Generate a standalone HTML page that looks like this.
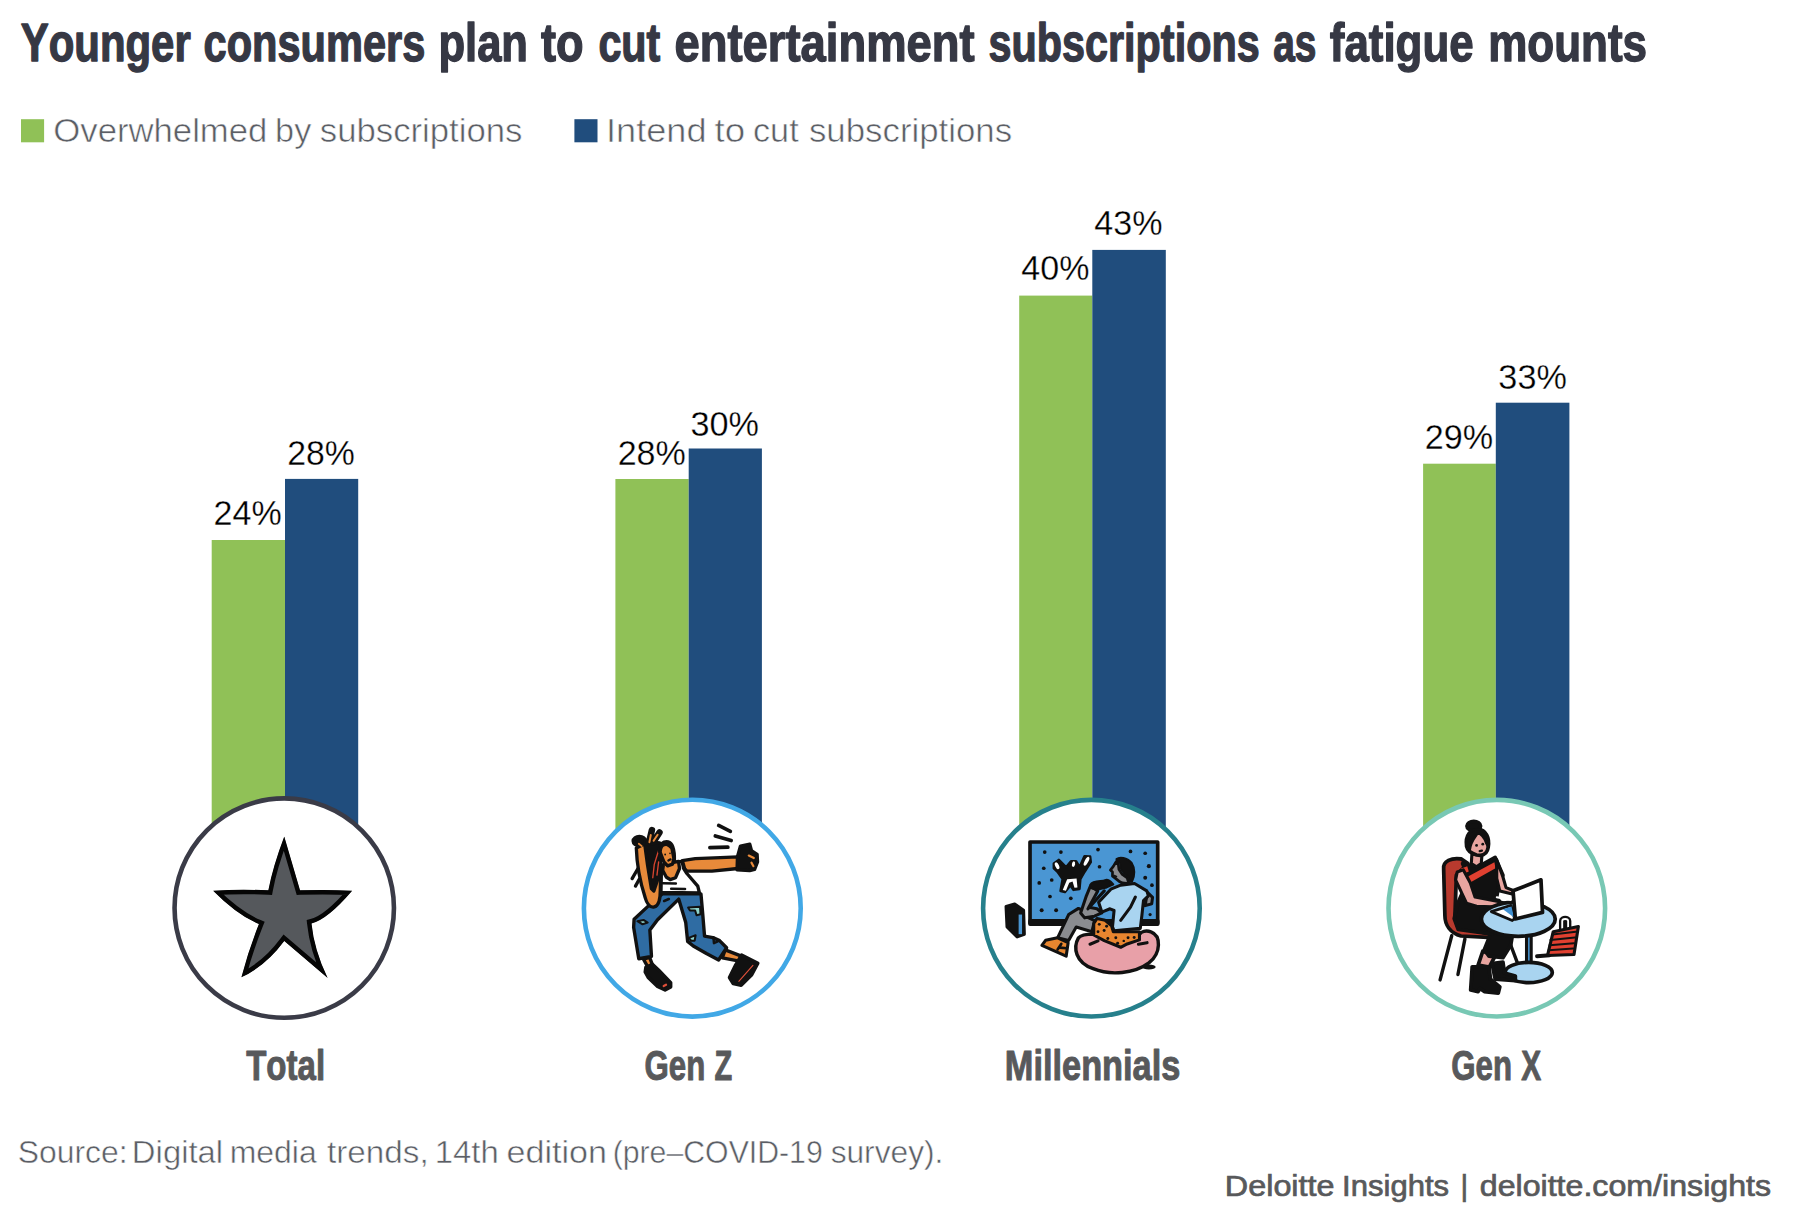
<!DOCTYPE html>
<html lang="en">
<head>
<meta charset="utf-8">
<title>Younger consumers plan to cut entertainment subscriptions as fatigue mounts</title>
<style>
html,body{margin:0;padding:0;background:#fff;}
body{width:1794px;height:1224px;overflow:hidden;}
svg{display:block;font-family:"Liberation Sans",sans-serif;font-kerning:none;}
</style>
</head>
<body>
<svg width="1794" height="1224" viewBox="0 0 1794 1224">
<rect width="1794" height="1224" fill="#fff"/>
<rect x="211.7" y="540.0" width="73.3" height="370.0" fill="#90c157"/>
<rect x="285.0" y="478.9" width="73.2" height="431.1" fill="#204d7d"/>
<rect x="615.4" y="479.0" width="73.3" height="431.0" fill="#90c157"/>
<rect x="688.7" y="448.5" width="73.2" height="461.5" fill="#204d7d"/>
<rect x="1019.2" y="295.6" width="73.1" height="614.4" fill="#90c157"/>
<rect x="1092.3" y="249.9" width="73.5" height="660.1" fill="#204d7d"/>
<rect x="1423.1" y="463.7" width="72.7" height="446.3" fill="#90c157"/>
<rect x="1495.8" y="402.7" width="73.6" height="507.3" fill="#204d7d"/>
<text y="60.50" font-size="54" font-weight="700" fill="#363844" stroke="#363844" stroke-width="1.4" stroke-linejoin="round"><tspan x="20.78" textLength="169.95" lengthAdjust="spacingAndGlyphs">Younger</tspan> <tspan x="203.58" textLength="221.73" lengthAdjust="spacingAndGlyphs">consumers</tspan> <tspan x="438.43" textLength="89.57" lengthAdjust="spacingAndGlyphs">plan</tspan> <tspan x="541.05" textLength="42.61" lengthAdjust="spacingAndGlyphs">to</tspan> <tspan x="598.39" textLength="61.92" lengthAdjust="spacingAndGlyphs">cut</tspan> <tspan x="674.43" textLength="300.33" lengthAdjust="spacingAndGlyphs">entertainment</tspan> <tspan x="988.45" textLength="271.25" lengthAdjust="spacingAndGlyphs">subscriptions</tspan> <tspan x="1273.26" textLength="43.23" lengthAdjust="spacingAndGlyphs">as</tspan> <tspan x="1329.85" textLength="143.75" lengthAdjust="spacingAndGlyphs">fatigue</tspan> <tspan x="1488.20" textLength="158.80" lengthAdjust="spacingAndGlyphs">mounts</tspan></text>
<rect x="21" y="119.2" width="23.1" height="23.1" fill="#90c157"/>
<rect x="574.4" y="119.2" width="23.1" height="23.1" fill="#204d7d"/>
<text y="141.80" font-size="33" fill="#5b5e65" stroke="#fff" stroke-width="0.55"><tspan x="53.31" textLength="214.08" lengthAdjust="spacingAndGlyphs">Overwhelmed</tspan> <tspan x="275.14" textLength="36.17" lengthAdjust="spacingAndGlyphs">by</tspan> <tspan x="319.78" textLength="202.72" lengthAdjust="spacingAndGlyphs">subscriptions</tspan></text>
<text y="141.80" font-size="33" fill="#5b5e65" stroke="#fff" stroke-width="0.55"><tspan x="606.02" textLength="100.46" lengthAdjust="spacingAndGlyphs">Intend</tspan> <tspan x="714.49" textLength="30.60" lengthAdjust="spacingAndGlyphs">to</tspan> <tspan x="752.99" textLength="45.71" lengthAdjust="spacingAndGlyphs">cut</tspan> <tspan x="808.98" textLength="203.13" lengthAdjust="spacingAndGlyphs">subscriptions</tspan></text>
<text y="525.40" font-size="34.8" fill="#000" stroke="#fff" stroke-width="0.3"><tspan x="213.54" textLength="68.13" lengthAdjust="spacingAndGlyphs">24%</tspan></text>
<text y="464.80" font-size="34.8" fill="#000" stroke="#fff" stroke-width="0.3"><tspan x="287.15" textLength="67.71" lengthAdjust="spacingAndGlyphs">28%</tspan></text>
<text y="464.90" font-size="34.8" fill="#000" stroke="#fff" stroke-width="0.3"><tspan x="617.64" textLength="68.13" lengthAdjust="spacingAndGlyphs">28%</tspan></text>
<text y="436.30" font-size="34.8" fill="#000" stroke="#fff" stroke-width="0.3"><tspan x="690.55" textLength="68.52" lengthAdjust="spacingAndGlyphs">30%</tspan></text>
<text y="280.10" font-size="34.8" fill="#000" stroke="#fff" stroke-width="0.3"><tspan x="1021.37" textLength="68.09" lengthAdjust="spacingAndGlyphs">40%</tspan></text>
<text y="234.60" font-size="34.8" fill="#000" stroke="#fff" stroke-width="0.3"><tspan x="1094.37" textLength="68.30" lengthAdjust="spacingAndGlyphs">43%</tspan></text>
<text y="448.90" font-size="34.8" fill="#000" stroke="#fff" stroke-width="0.3"><tspan x="1424.63" textLength="68.44" lengthAdjust="spacingAndGlyphs">29%</tspan></text>
<text y="388.60" font-size="34.8" fill="#000" stroke="#fff" stroke-width="0.3"><tspan x="1498.35" textLength="68.52" lengthAdjust="spacingAndGlyphs">33%</tspan></text>
<circle cx="284.25" cy="908.1" r="109.7" fill="#fff" stroke="#3a3b47" stroke-width="4.6"/>
<circle cx="692.3" cy="908.2" r="108.4" fill="#fff" stroke="#41a8e6" stroke-width="4.6"/>
<circle cx="1091.4" cy="908.2" r="108.3" fill="#fff" stroke="#26808c" stroke-width="4.6"/>
<circle cx="1496.8" cy="908.2" r="108.3" fill="#fff" stroke="#78c8b4" stroke-width="4.6"/>
<g id="icon-star" transform="translate(205,825) scale(0.13479)">
<clipPath id="starclip"><path d="M588,85 L705,485 Q900,478 1092,487 Q910,700 790,730 Q810,928 910,1135 L588,860 Q451,1045 270,1130 Q322,930 400,735 Q240,669 60,487 Q270,475 470,485 Q501,315 588,85 Z"/></clipPath>
<path d="M588,85 L705,485 Q900,478 1092,487 Q910,700 790,730 Q810,928 910,1135 L588,860 Q451,1045 270,1130 Q322,930 400,735 Q240,669 60,487 Q270,475 470,485 Q501,315 588,85 Z" fill="#55585c" stroke="#050505" stroke-width="66" stroke-linejoin="miter" stroke-miterlimit="10" clip-path="url(#starclip)"/>
</g>

<g id="icon-genz" stroke-linejoin="round" stroke-linecap="round">
<!-- lower body : traced in window (620,885) scale 10.647 -->
<g transform="translate(620,885) scale(0.093923)" stroke="#111" stroke-width="36">
  <path d="M250,790 L315,770 L350,860 L300,880 Z" fill="#e88a3a"/>
  <path d="M1120,690 L1300,760 L1270,810 L1090,775 Z" fill="#e88a3a"/>
  <path d="M450,95 L300,225 L150,365 L145,450 L200,785 L335,760 L318,480 L400,370 L625,150 L700,400 L720,600 L780,650 L920,730 L1050,798 L1135,668 L1060,592 L990,560 L900,545 L880,300 L862,95 Z" fill="#2f6ca3"/>
  <path d="M185,385 L250,372 L295,400 L240,418 Z" fill="#8ed5cd" stroke-width="22"/>
  <path d="M725,240 L852,232 L858,312 L815,322 L800,272 L745,272 Z" fill="#8ed5cd" stroke-width="22"/>
  <path d="M738,560 L805,535 L795,592 L755,594 Z" fill="#8ed5cd" stroke-width="22"/>
  <path d="M995,560 L1000,620 L1040,600" fill="none" stroke-width="26"/>
  <path d="M470,170 L520,150" fill="none" stroke-width="28"/>
  <path d="M275,875 L345,845 L410,905 L540,1040 L540,1085 L480,1118 L400,1080 L300,985 L268,925 Z" fill="#111"/>
  <path d="M465,1075 L490,1062" stroke="#e0503a" stroke-width="24" fill="none"/>
  <path d="M1295,745 L1468,832 L1400,960 L1290,1068 L1205,1050 L1165,985 L1232,850 Z" fill="#111"/>
  <path d="M1265,1025 L1415,855" stroke="#e0503a" stroke-width="12" fill="none"/>
</g>
<!-- upper body : traced in window (620,815) scale 11.96 -->
<g transform="translate(620,815) scale(0.083612)" stroke="#111" stroke-width="40">
  <!-- hair strands left -->
  <path d="M215,640 L145,760 M232,765 L185,850" fill="none" stroke-width="40"/>
  <!-- tank top -->
  <path d="M495,640 L490,925 L950,932 L930,850 L800,700 L762,640 L742,555 L700,560 Z" fill="#fff"/>
  <!-- chest / neck -->
  <path d="M520,590 L700,555 L712,640 L665,750 L600,772 L555,745 L510,660 Z" fill="#e88a3a"/>
  <path d="M512,815 L668,820 M612,882 L778,886" fill="none" stroke-width="30"/>
  <!-- extended arm -->
  <path d="M745,545 L900,522 L1200,510 L1410,500 L1410,640 L1100,672 L800,672 L772,640 Z" fill="#e88a3a"/>
  <!-- hand + phone -->
  <path d="M1440,372 L1552,350 L1572,425 L1640,470 L1645,560 L1610,650 L1550,665 L1400,655 L1405,500 Z" fill="#111"/>
  <path d="M1540,485 L1600,515 M1572,570 L1596,612" stroke="#e88a3a" stroke-width="26" fill="none"/>
  <!-- raised arm -->
  <path d="M195,395 C200,550 240,800 300,985 C320,1060 360,1112 410,1100 C470,1085 482,1000 482,900 L487,640 L440,600 L400,820 L330,470 L300,340 Z" fill="#e88a3a"/>
  <!-- dreadlocks over arm -->
  <path d="M300,380 L345,320 L475,335 L490,650 L445,790 L405,910 L375,880 L330,600 Z" fill="#111"/>
  <path d="M478,370 L410,590 L392,750 M462,560 L442,720" stroke="#d8452f" stroke-width="16" fill="none"/>
  <!-- face -->
  <path d="M478,440 L495,362 L560,340 L620,395 L645,520 L628,588 L570,608 L525,560 Z" fill="#e88a3a"/>
  <!-- hair cap -->
  <path d="M462,440 C452,340 520,302 578,312 C645,328 662,450 660,548 L644,542 L624,398 C575,345 520,348 496,392 L482,446 Z" fill="#111" stroke-width="22"/>
  <circle cx="540" cy="472" r="11" fill="#111" stroke="none"/>
  <circle cx="598" cy="458" r="10" fill="#111" stroke="none"/>
  <path d="M578,545 L605,530" stroke-width="26" fill="none"/>
  <!-- fist + peace fingers -->
  <ellipse cx="232" cy="312" rx="75" ry="55" fill="#111"/>
  <path d="M345,335 L382,180 M395,328 L472,210" fill="none" stroke-width="78"/>
  <path d="M352,325 L368,240 M402,308 L450,236" fill="none" stroke="#e88a3a" stroke-width="24"/>
  <path d="M225,345 L260,372" stroke="#e88a3a" stroke-width="22" fill="none"/>
  <!-- motion lines -->
  <path d="M1180,125 L1320,195 M1140,250 L1330,305 M1075,390 L1290,385" fill="none" stroke-width="44"/>
</g>
</g>

<g id="icon-mill" transform="translate(1000,830) scale(0.12253)" stroke="#111" stroke-width="25" stroke-linejoin="round" stroke-linecap="round">
  <!-- TV -->
  <rect x="245" y="98" width="1042" height="660" fill="#4a96d3" stroke-width="30"/>
  <rect x="245" y="742" width="1042" height="26" fill="#111" stroke-width="30"/>
  <g fill="#111" stroke="none">
    <circle cx="365" cy="180" r="15"/><circle cx="497" cy="180" r="15"/><circle cx="800" cy="160" r="15"/>
    <circle cx="1065" cy="175" r="15"/><circle cx="1185" cy="190" r="15"/><circle cx="357" cy="312" r="15"/>
    <circle cx="812" cy="300" r="15"/><circle cx="1215" cy="295" r="17"/><circle cx="320" cy="432" r="15"/>
    <circle cx="422" cy="408" r="15"/><circle cx="1185" cy="390" r="16"/><circle cx="1240" cy="450" r="15"/>
    <circle cx="408" cy="543" r="15"/><circle cx="578" cy="558" r="15"/><circle cx="340" cy="655" r="16"/>
    <circle cx="458" cy="655" r="16"/><circle cx="1225" cy="690" r="13"/>
  </g>
  <!-- creature -->
  <path d="M440,275 L480,245 L540,305 L580,255 L620,255 L650,305 L690,215 L735,218 L740,262 L690,340 L655,400 L648,480 L600,488 L575,450 L530,505 L495,498 L512,400 L470,340 L440,312 Z" fill="#111" stroke-width="22"/>
  <g fill="#fff" stroke="none">
    <ellipse cx="466" cy="292" rx="15" ry="30" transform="rotate(-25 466 292)"/>
    <ellipse cx="600" cy="278" rx="13" ry="24" transform="rotate(10 600 278)"/>
    <ellipse cx="706" cy="255" rx="15" ry="40" transform="rotate(28 706 255)"/>
    <path d="M512,490 L548,402 L625,395 L632,470 L608,472 L592,420 L565,430 L538,495 Z"/>
  </g>
  <!-- console -->
  <path d="M50,625 L120,605 L192,655 L198,850 L140,872 L58,790 Z" fill="#111" stroke-width="26"/>
  <rect x="152" y="690" width="28" height="160" fill="#4a96d3" stroke="none"/>
  <!-- beanbag -->
  <ellipse cx="1215" cy="1118" rx="55" ry="20" fill="#111" stroke="none"/>
  <path d="M640,880 C595,960 615,1080 760,1132 C900,1190 1100,1172 1215,1085 C1320,1000 1312,862 1232,832 C1190,815 1150,830 1140,850 L1000,900 L760,850 C700,850 660,858 640,880 Z" fill="#e8a0a8" stroke-width="28"/>
  <path d="M735,932 L800,905 M1130,932 L1200,920" fill="none" stroke-width="26"/>
  <!-- legs -->
  <path d="M640,640 L560,690 L470,880 L560,902 L622,792 L750,830 L772,740 L690,700 L662,650 Z" fill="#8a8c90"/>
  <!-- shoe -->
  <path d="M372,900 L470,880 L556,920 L540,1030 L342,942 Z" fill="#e8862f"/>
  <path d="M490,960 L545,965 M500,930 L470,975" fill="none" stroke-width="22"/>
  <!-- shorts -->
  <path d="M791,723 L858,737 L911,783 L925,830 L1138,830 L1138,897 L1038,930 L985,957 L851,903 L765,857 L765,763 Z" fill="#e8862f"/>
  <g fill="#111" stroke="none">
    <circle cx="810" cy="770" r="12"/><circle cx="870" cy="785" r="12"/><circle cx="800" cy="830" r="12"/>
    <circle cx="850" cy="820" r="12"/><circle cx="880" cy="885" r="12"/><circle cx="945" cy="880" r="12"/>
    <circle cx="960" cy="925" r="12"/><circle cx="1045" cy="880" r="12"/><circle cx="1095" cy="878" r="12"/><circle cx="1010" cy="905" r="10"/>
  </g>
  <!-- left arm -->
  <path d="M738,457 L798,497 L725,630 L791,643 L831,677 L771,703 L691,717 L658,677 L705,537 Z" fill="#8a8c90"/>
  <!-- right arm -->
  <path d="M1205,510 L1245,550 L1238,603 L1185,617 L1191,577 Z" fill="#8a8c90"/>
  <!-- shirt -->
  <path d="M805,590 L905,483 L985,450 L1098,437 L1198,497 L1211,537 L1171,577 L1158,697 L1145,803 L931,823 L918,790 L931,657 L898,643 L831,670 Z" fill="#a9d4f0"/>
  <path d="M1105,547 L1065,630 L985,737" fill="none"/>
  <path d="M851,497 L718,643" fill="none" stroke-width="26"/>
  <!-- head -->
  <path d="M945,263 L925,297 L901,327 L918,343 L918,377 L945,397 L978,423 L998,432 L1051,437 L1038,390 L998,363 L971,323 L965,277 Z" fill="#8a8c90" stroke-width="22"/>
  <path d="M950,236 C975,216 1036,222 1074,266 C1104,312 1104,375 1078,424 L1060,424 L1050,385 L1012,355 L986,318 L980,272 L950,255 Z" fill="#111" stroke-width="14"/>
  <path d="M932,372 L950,380" fill="none" stroke-width="14"/>
  <!-- controller -->
  <path d="M736,446 C760,404 838,422 858,408 C888,396 914,432 926,444 L871,470 L790,488 L750,478 Z" fill="#111" stroke-width="14"/>
</g>

<g id="icon-genx" transform="translate(1430,810) scale(0.15519)" stroke="#111" stroke-width="24" stroke-linejoin="round" stroke-linecap="round">
  <!-- chair legs -->
  <path d="M140,810 L65,1095 M225,830 L180,1060 M520,870 L565,990" fill="none" stroke-width="22"/>
  <!-- chair -->
  <path d="M88,380 C82,330 140,305 200,315 L245,345 L170,420 L160,700 L182,760 L402,800 L400,822 L200,812 C130,792 96,740 96,680 Z" fill="#b83a2e"/>
  <!-- table stem + base -->
  <rect x="622" y="780" width="30" height="230" fill="#4a96d3" stroke-width="20"/>
  <ellipse cx="636" cy="1047" rx="152" ry="65" fill="#a9d4f0"/>
  <!-- legs -->
  <path d="M340,910 L420,940 L382,1012 L310,1000 Z" fill="#e8a5a0"/>
  <path d="M390,800 L532,800 L520,872 L470,952 L380,942 L350,900 Z" fill="#111"/>
  <path d="M400,990 L470,980 L480,1050 L550,1070 L550,1100 L420,1090 Z" fill="#111"/>
  <path d="M272,1010 L380,1010 L390,1090 L450,1140 L440,1180 L350,1170 L322,1150 L310,1170 L262,1160 Z" fill="#111"/>
  <!-- torso -->
  <path d="M210,345 L270,362 L330,356 L420,306 L470,420 L440,500 L430,560 L460,610 L390,650 L340,720 L400,800 L182,770 L156,700 L180,600 L250,440 Z" fill="#111"/>
  <path d="M198,378 L240,362 L250,396 L212,412 Z M245,428 L415,336 L422,376 L262,466 Z" fill="#e04030" stroke="none"/>
  <!-- arms -->
  <path d="M430,320 L470,432 L490,500 L540,520 L530,542 L450,522 L430,440 Z" fill="#e8a5a0" stroke-width="20"/>
  <path d="M175,400 L215,386 L260,470 L290,560 L440,590 L480,600 L450,626 L300,620 L235,600 L165,450 Z" fill="#e8a5a0" stroke-width="20"/>
  <!-- neck + head -->
  <path d="M270,285 L335,290 L330,345 L300,366 L266,345 Z" fill="#e8a5a0" stroke-width="20"/>
  <path d="M236,235 C225,160 265,122 310,125 C360,128 385,180 375,240 C370,275 350,290 325,292 L300,290 C265,280 242,265 236,235 Z" fill="#e8a5a0"/>
  <ellipse cx="282" cy="103" rx="44" ry="30" fill="#111"/>
  <path d="M236,235 C225,160 265,122 310,125 C360,128 385,180 375,240 L362,215 C350,172 322,152 308,150 C290,178 262,200 256,264 Z" fill="#111" stroke-width="14"/>
  <circle cx="300" cy="228" r="9" fill="#111" stroke="none"/><circle cx="340" cy="220" r="9" fill="#111" stroke="none"/>
  <path d="M320,265 L335,262" fill="none" stroke-width="14"/>
  <!-- table top -->
  <ellipse cx="569" cy="703" rx="238" ry="111" fill="#a9d4f0"/>
  <!-- laptop -->
  <path d="M395,655 L522,615 L545,700 L530,712 Z" fill="#fff" stroke-width="18"/>
  <path d="M470,640 L525,622 L542,692 Z" fill="#3f8fd0" stroke="none"/>
  <path d="M430,562 L520,580" fill="none" stroke="#fff" stroke-width="12"/>
  <path d="M535,520 L715,450 L725,660 L550,702 Z" fill="#fff"/>
  <!-- bag -->
  <path d="M852,775 L852,715 C852,698 890,698 890,715 L890,765" fill="none" stroke-width="42"/>
  <path d="M852,775 L852,715 C852,698 890,698 890,715 L890,765" fill="none" stroke="#fff" stroke-width="12"/>
  <path d="M690,942 L770,936" fill="none" stroke-width="26"/>
  <path d="M794,784 L956,751 L928,931 L757,938 Z" fill="#e04030" stroke-width="20"/>
  <path d="M788,803 L940,785 M776,837 L934,822 M770,871 L928,858 M764,904 L922,892" fill="none" stroke-width="13"/>
</g>

<text y="1080.20" font-size="42" font-weight="700" fill="#58595b" stroke="#58595b" stroke-width="1.0" stroke-linejoin="round"><tspan x="246.18" textLength="78.91" lengthAdjust="spacingAndGlyphs">Total</tspan></text>
<text y="1080.20" font-size="42" font-weight="700" fill="#58595b" stroke="#58595b" stroke-width="1.0" stroke-linejoin="round"><tspan x="644.57" textLength="60.72" lengthAdjust="spacingAndGlyphs">Gen</tspan> <tspan x="714.59" textLength="17.70" lengthAdjust="spacingAndGlyphs">Z</tspan></text>
<text y="1080.20" font-size="42" font-weight="700" fill="#58595b" stroke="#58595b" stroke-width="1.0" stroke-linejoin="round"><tspan x="1004.85" textLength="175.50" lengthAdjust="spacingAndGlyphs">Millennials</tspan></text>
<text y="1080.20" font-size="42" font-weight="700" fill="#58595b" stroke="#58595b" stroke-width="1.0" stroke-linejoin="round"><tspan x="1451.27" textLength="60.72" lengthAdjust="spacingAndGlyphs">Gen</tspan> <tspan x="1521.19" textLength="19.93" lengthAdjust="spacingAndGlyphs">X</tspan></text>
<text y="1163.10" font-size="32" fill="#5b5e65" stroke="#fff" stroke-width="0.5"><tspan x="17.70" textLength="109.86" lengthAdjust="spacingAndGlyphs">Source:</tspan> <tspan x="131.86" textLength="91.29" lengthAdjust="spacingAndGlyphs">Digital</tspan> <tspan x="229.73" textLength="86.92" lengthAdjust="spacingAndGlyphs">media</tspan> <tspan x="327.05" textLength="101.59" lengthAdjust="spacingAndGlyphs">trends,</tspan> <tspan x="434.75" textLength="63.94" lengthAdjust="spacingAndGlyphs">14th</tspan> <tspan x="506.50" textLength="100.36" lengthAdjust="spacingAndGlyphs">edition</tspan> <tspan x="612.67" textLength="210.11" lengthAdjust="spacingAndGlyphs">(pre–COVID-19</tspan> <tspan x="830.67" textLength="112.67" lengthAdjust="spacingAndGlyphs">survey).</tspan></text>
<text y="1196.40" font-size="29.5" fill="#58595b" stroke="#58595b" stroke-width="0.7"><tspan x="1224.85" textLength="109.69" lengthAdjust="spacingAndGlyphs">Deloitte</tspan> <tspan x="1342.14" textLength="106.99" lengthAdjust="spacingAndGlyphs">Insights</tspan> <tspan x="1460.42">|</tspan> <tspan x="1479.75" textLength="291.31" lengthAdjust="spacingAndGlyphs">deloitte.com/insights</tspan></text>
</svg>
</body>
</html>
